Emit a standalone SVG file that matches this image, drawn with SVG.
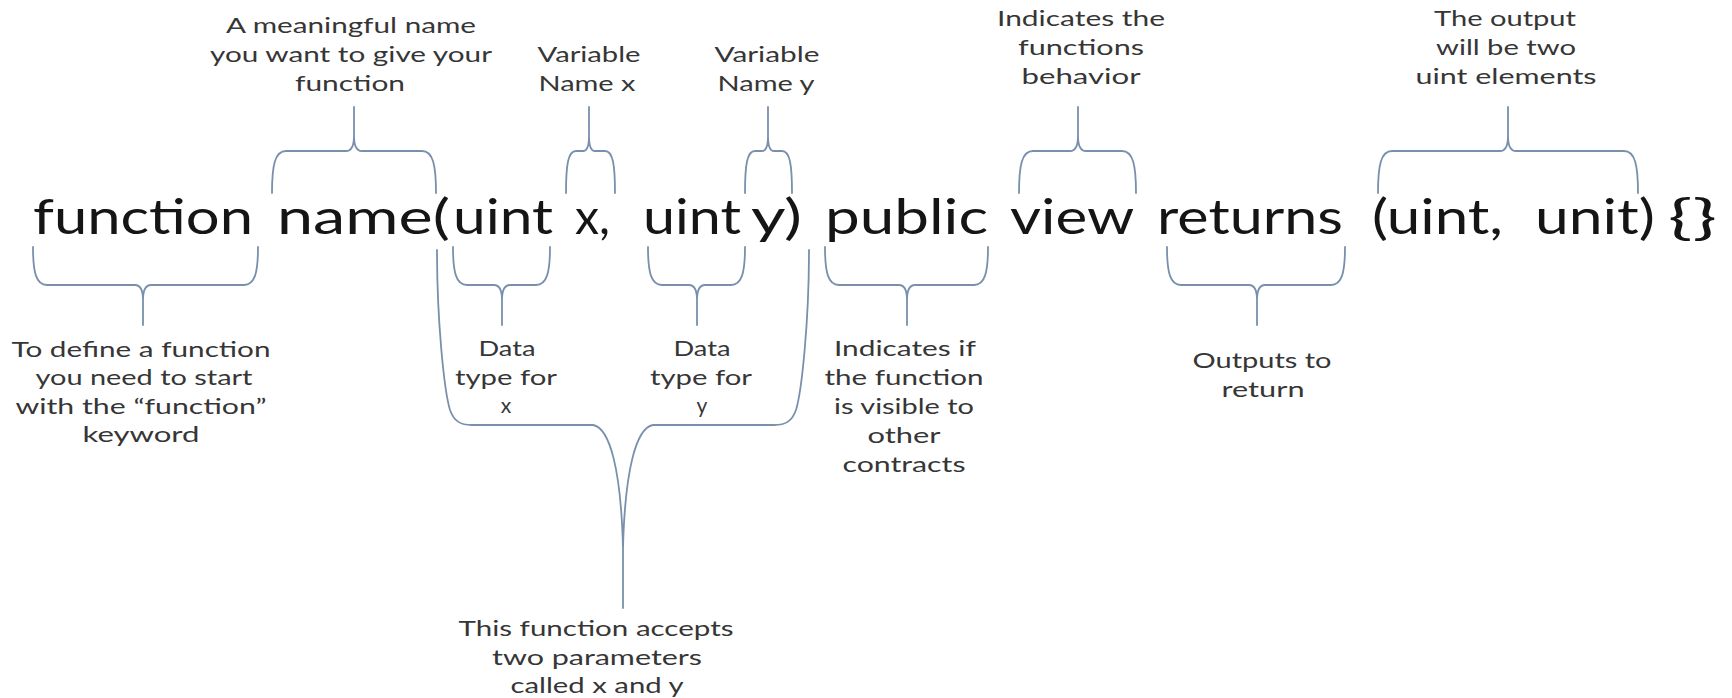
<svg xmlns="http://www.w3.org/2000/svg" width="1732" height="698" viewBox="0 0 1732 698">
<style>
.code{font-family:Lato,"Open Sans","Liberation Sans",sans-serif;font-size:48px;fill:#151515}
.lbl{font-family:Lato,"Open Sans","Liberation Sans",sans-serif;font-size:21px;fill:#363636;text-anchor:middle}
.br{fill:none;stroke:#7890ad;stroke-width:1.8;stroke-linecap:round;stroke-linejoin:round}
</style>
<rect width="1732" height="698" fill="#ffffff"/>
<g id="code">
<text class="code" y="234" lengthAdjust="spacingAndGlyphs">
<tspan x="33" textLength="220" lengthAdjust="spacingAndGlyphs">function</tspan>
<tspan x="277" textLength="173" lengthAdjust="spacingAndGlyphs">name(</tspan>
<tspan x="453" textLength="100" lengthAdjust="spacingAndGlyphs">uint</tspan>
<tspan x="575" textLength="35" lengthAdjust="spacingAndGlyphs">x,</tspan>
<tspan x="643" textLength="98" lengthAdjust="spacingAndGlyphs">uint</tspan>
<tspan x="751" textLength="51" lengthAdjust="spacingAndGlyphs">y)</tspan>
<tspan x="825" textLength="163" lengthAdjust="spacingAndGlyphs">public</tspan>
<tspan x="1010" textLength="123" lengthAdjust="spacingAndGlyphs">view</tspan>
<tspan x="1157" textLength="186" lengthAdjust="spacingAndGlyphs">returns</tspan>
<tspan x="1372" textLength="131" lengthAdjust="spacingAndGlyphs">(uint,</tspan>
<tspan x="1535" textLength="120" lengthAdjust="spacingAndGlyphs">unit)</tspan>
<tspan x="1668" textLength="49" lengthAdjust="spacingAndGlyphs">{}</tspan>
</text>
</g>
<g id="connectors">
<path class="br" d="M272,193 C272,165 275,151 286,151 L346,151 C351,151 354,146 354,136 L354,107 M436,193 C436,165 433,151 422,151 L362,151 C357,151 354,146 354,136"/>
<path class="br" d="M566,193 C566,165 568,151 576,151 L583,151 C587,151 589,146 589,136 L589,107 M615,193 C615,165 613,151 605,151 L595,151 C591,151 589,146 589,136"/>
<path class="br" d="M745,193 C745,165 747,151 755,151 L762,151 C766,151 768,146 768,136 L768,107 M792,193 C792,165 790,151 782,151 L774,151 C770,151 768,146 768,136"/>
<path class="br" d="M1019,193 C1019,165 1022,151 1033,151 L1070,151 C1075,151 1078,146 1078,136 L1078,107 M1136,193 C1136,165 1133,151 1122,151 L1086,151 C1081,151 1078,146 1078,136"/>
<path class="br" d="M1378,193 C1378,165 1381,151 1392,151 L1500,151 C1505,151 1508,146 1508,136 L1508,107 M1638,193 C1638,165 1635,151 1624,151 L1516,151 C1511,151 1508,146 1508,136"/>
<path class="br" d="M33,247 C33,272 36,285 47,285 L135,285 C140,285 143,290 143,300 L143,325 M258,247 C258,272 255,285 244,285 L151,285 C146,285 143,290 143,300"/>
<path class="br" d="M453,247 C453,272 456,285 467,285 L494,285 C499,285 502,290 502,300 L502,325 M550,247 C550,272 547,285 536,285 L510,285 C505,285 502,290 502,300"/>
<path class="br" d="M648,247 C648,272 651,285 662,285 L689,285 C694,285 697,290 697,300 L697,325 M745,247 C745,272 742,285 731,285 L705,285 C700,285 697,290 697,300"/>
<path class="br" d="M825,247 C825,272 828,285 839,285 L899,285 C904,285 907,290 907,300 L907,325 M988,247 C988,272 985,285 974,285 L915,285 C910,285 907,290 907,300"/>
<path class="br" d="M1167,247 C1167,272 1170,285 1181,285 L1249,285 C1254,285 1257,290 1257,300 L1257,325 M1345,247 C1345,272 1342,285 1331,285 L1265,285 C1260,285 1257,290 1257,300"/>
<path class="br" d="M437,250 C437,320 444,390 450,410 C454,421 460,425 472,425 L593,425 C610,428 621,470 623,548 L623,608 M809,250 C809,320 802,390 796,410 C792,421 786,425 774,425 L653,425 C636,428 625,470 623,548"/>
</g>
<g id="label-name">
<text class="lbl" x="351" y="33" textLength="250" lengthAdjust="spacingAndGlyphs">A meaningful name</text>
<text class="lbl" x="351" y="62" textLength="282" lengthAdjust="spacingAndGlyphs">you want to give your</text>
<text class="lbl" x="350" y="91" textLength="110" lengthAdjust="spacingAndGlyphs">function</text>
</g>
<g id="label-varx">
<text class="lbl" x="589" y="62" textLength="103" lengthAdjust="spacingAndGlyphs">Variable</text>
<text class="lbl" x="587" y="91" textLength="97" lengthAdjust="spacingAndGlyphs">Name x</text>
</g>
<g id="label-vary">
<text class="lbl" x="767" y="62" textLength="105" lengthAdjust="spacingAndGlyphs">Variable</text>
<text class="lbl" x="766" y="91" textLength="97" lengthAdjust="spacingAndGlyphs">Name y</text>
</g>
<g id="label-view">
<text class="lbl" x="1081" y="26" textLength="168" lengthAdjust="spacingAndGlyphs">Indicates the</text>
<text class="lbl" x="1081" y="55" textLength="126" lengthAdjust="spacingAndGlyphs">functions</text>
<text class="lbl" x="1081" y="84" textLength="119" lengthAdjust="spacingAndGlyphs">behavior</text>
</g>
<g id="label-output">
<text class="lbl" x="1505" y="26" textLength="142" lengthAdjust="spacingAndGlyphs">The output</text>
<text class="lbl" x="1506" y="55" textLength="140" lengthAdjust="spacingAndGlyphs">will be two</text>
<text class="lbl" x="1506" y="84" textLength="181" lengthAdjust="spacingAndGlyphs">uint elements</text>
</g>
<g id="label-function">
<text class="lbl" x="141" y="357" textLength="259" lengthAdjust="spacingAndGlyphs">To define a function</text>
<text class="lbl" x="144" y="385" textLength="217" lengthAdjust="spacingAndGlyphs">you need to start</text>
<text class="lbl" x="141" y="414" textLength="251" lengthAdjust="spacingAndGlyphs">with the “function”</text>
<text class="lbl" x="141" y="442" textLength="117" lengthAdjust="spacingAndGlyphs">keyword</text>
</g>
<g id="label-typex">
<text class="lbl" x="507" y="356" textLength="57" lengthAdjust="spacingAndGlyphs">Data</text>
<text class="lbl" x="506" y="385" textLength="102" lengthAdjust="spacingAndGlyphs">type for</text>
<text class="lbl" x="506" y="413">x</text>
</g>
<g id="label-typey">
<text class="lbl" x="702" y="356" textLength="57" lengthAdjust="spacingAndGlyphs">Data</text>
<text class="lbl" x="701" y="385" textLength="102" lengthAdjust="spacingAndGlyphs">type for</text>
<text class="lbl" x="702" y="413">y</text>
</g>
<g id="label-public">
<text class="lbl" x="905" y="356" textLength="142" lengthAdjust="spacingAndGlyphs">Indicates if</text>
<text class="lbl" x="904" y="385" textLength="159" lengthAdjust="spacingAndGlyphs">the function</text>
<text class="lbl" x="904" y="414" textLength="140" lengthAdjust="spacingAndGlyphs">is visible to</text>
<text class="lbl" x="904" y="443" textLength="73" lengthAdjust="spacingAndGlyphs">other</text>
<text class="lbl" x="904" y="472" textLength="123" lengthAdjust="spacingAndGlyphs">contracts</text>
</g>
<g id="label-returns">
<text class="lbl" x="1262" y="368" textLength="139" lengthAdjust="spacingAndGlyphs">Outputs to</text>
<text class="lbl" x="1263" y="397" textLength="83" lengthAdjust="spacingAndGlyphs">return</text>
</g>
<g id="label-params">
<text class="lbl" x="596" y="636" textLength="275" lengthAdjust="spacingAndGlyphs">This function accepts</text>
<text class="lbl" x="597" y="665" textLength="210" lengthAdjust="spacingAndGlyphs">two parameters</text>
<text class="lbl" x="597" y="693" textLength="173" lengthAdjust="spacingAndGlyphs">called x and y</text>
</g>
</svg>
